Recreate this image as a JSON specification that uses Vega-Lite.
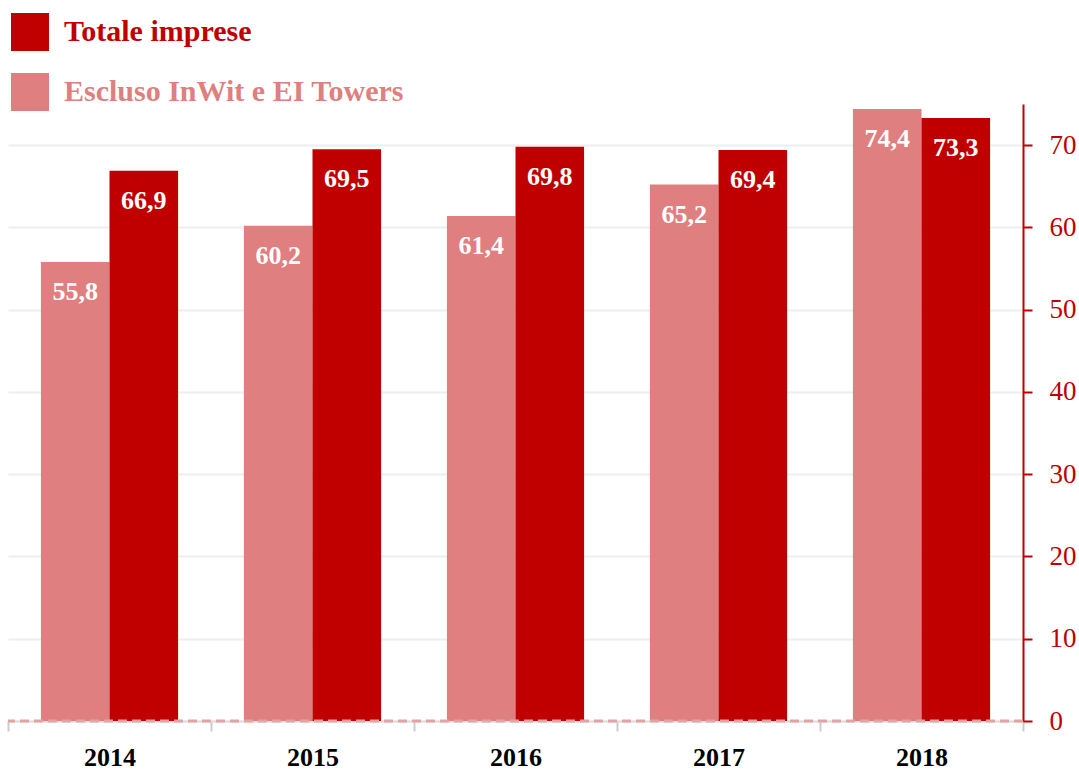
{
  "$schema": "https://vega.github.io/schema/vega-lite/v6.json",
  "width": 1015,
  "height": 617,
  "autosize": {"type": "none"},
  "padding": {"left": 8, "top": 104, "right": 56, "bottom": 49},
  "config": {
    "view": {"stroke": null},
    "font": "Liberation Serif",
    "locale": {"number": {"decimal": ",", "thousands": ".", "grouping": [3], "currency": ["", " €"]}}
  },
  "data": {
    "values": [
      {"year": "2014", "series": "Escluso InWit e EI Towers", "value": 55.8},
      {"year": "2014", "series": "Totale imprese", "value": 66.9},
      {"year": "2015", "series": "Escluso InWit e EI Towers", "value": 60.2},
      {"year": "2015", "series": "Totale imprese", "value": 69.5},
      {"year": "2016", "series": "Escluso InWit e EI Towers", "value": 61.4},
      {"year": "2016", "series": "Totale imprese", "value": 69.8},
      {"year": "2017", "series": "Escluso InWit e EI Towers", "value": 65.2},
      {"year": "2017", "series": "Totale imprese", "value": 69.4},
      {"year": "2018", "series": "Escluso InWit e EI Towers", "value": 74.4},
      {"year": "2018", "series": "Totale imprese", "value": 73.3}
    ]
  },
  "layer": [
    {
      "mark": {"type": "bar"},
      "encoding": {
        "x": {
          "field": "year", "type": "nominal",
          "scale": {"paddingInner": 0, "paddingOuter": 0},
          "axis": {
            "title": null, "labelAngle": 0, "labelFontWeight": "bold", "labelFontSize": 26,
            "labelColor": "#000000", "labelFont": "Liberation Serif", "tickBand": "extent",
            "tickColor": "#cccccc", "tickWidth": 2, "tickSize": 10, "labelPadding": 13,
            "domainColor": "#dddddd", "domainWidth": 2
          }
        },
        "xOffset": {
          "field": "series", "type": "nominal",
          "sort": ["Escluso InWit e EI Towers", "Totale imprese"],
          "scale": {"paddingOuter": 0.48, "paddingInner": 0}
        },
        "y": {
          "field": "value", "type": "quantitative",
          "scale": {"domain": [0, 75], "nice": false},
          "axis": {
            "orient": "right", "title": null, "values": [0, 10, 20, 30, 40, 50, 60, 70],
            "grid": true, "gridColor": "#eeeeee", "gridWidth": 2,
            "domainColor": "#c00000", "domainWidth": 2,
            "tickColor": "#c00000", "tickWidth": 2, "tickSize": 9,
            "labelColor": "#c00000", "labelFontSize": 27, "labelFont": "Liberation Serif",
            "labelPadding": 17
          }
        },
        "color": {
          "field": "series", "type": "nominal",
          "scale": {"domain": ["Totale imprese", "Escluso InWit e EI Towers"], "range": ["#c00000", "#df7f7f"]},
          "legend": {
            "orient": "none", "legendX": 3, "legendY": -91, "title": null,
            "symbolType": "square", "symbolSize": 1444, "symbolStrokeWidth": 0,
            "labelFontSize": 30, "labelFontWeight": "bold", "labelFont": "Liberation Serif",
            "labelOffset": 15, "rowPadding": 22, "labelLimit": 0, "labelBaseline": "middle",
            "labelColor": {"expr": "datum.label == 'Totale imprese' ? '#c00000' : '#df7f7f'"}
          }
        }
      }
    },
    {
      "mark": {"type": "text", "baseline": "middle", "dy": 30, "color": "#ffffff", "fontWeight": "bold", "fontSize": 26, "font": "Liberation Serif"},
      "encoding": {
        "x": {"field": "year", "type": "nominal"},
        "xOffset": {"field": "series", "type": "nominal", "sort": ["Escluso InWit e EI Towers", "Totale imprese"]},
        "y": {"field": "value", "type": "quantitative"},
        "text": {"field": "value", "type": "quantitative", "format": ".1f"}
      }
    },
    {
      "data": {"values": [{}]},
      "mark": {"type": "rule", "strokeDash": [9, 5], "color": "#e3a3a3", "strokeWidth": 3},
      "encoding": {"y": {"datum": 0}}
    }
  ]
}
